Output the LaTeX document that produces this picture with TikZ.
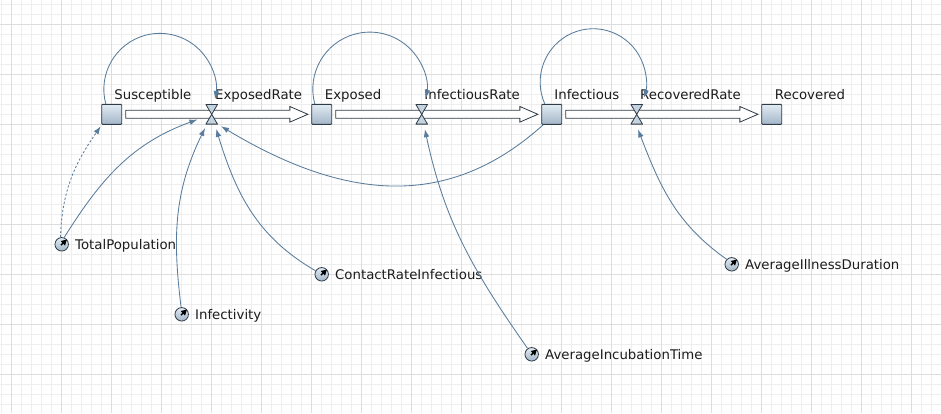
\documentclass[tikz,border=0pt]{standalone}
\usepackage{fontspec}
\setmainfont{DejaVu Sans}
\usetikzlibrary{arrows.meta}
\definecolor{conncol}{HTML}{587C9C}
\definecolor{stockborder}{HTML}{2F3B47}
\definecolor{stocktop}{HTML}{E2EBF3}
\definecolor{stockbot}{HTML}{A3B6C8}
\definecolor{valvecol}{HTML}{C4D3E0}
\definecolor{gridminor}{HTML}{EEEEEE}
\definecolor{gridmajor}{HTML}{DDDDDD}
\definecolor{labelcol}{HTML}{1C1C1C}
\begin{document}
\begin{tikzpicture}[x=1pt,y=1pt,
  stockbox/.style={rectangle, draw=stockborder, line width=0.9pt, minimum size=20pt, inner sep=0pt, top color=stocktop, bottom color=stockbot, rounded corners=0.8pt},
  valvenode/.style={circle, minimum size=30pt, inner sep=0pt},
  valveshape/.style={draw=stockborder, line width=0.8pt, fill=valvecol, line join=round},
  pipe/.style={draw=stockborder, line width=0.8pt, fill=white, line join=miter},
  auxnode/.style={circle, draw=stockborder, line width=0.8pt, minimum size=13.5pt, inner sep=0pt, top color=stocktop, bottom color=stockbot},
  needle/.style={line width=1.4pt, black, -{Triangle[length=5.6pt,width=5.8pt]}},
  conn/.style={draw=conncol, line width=0.85pt, -{Latex[length=8pt,width=5.6pt]}},
  lbl/.style={anchor=base west, inner sep=0pt, text=labelcol, font=\fontsize{13.3}{16}\selectfont},
  gminor/.style={draw=gridminor, line width=0.8pt},
  gmajor/.style={draw=gridmajor, line width=0.9pt}
]
\useasboundingbox (0,0) rectangle (941,-413);
\fill[white] (0,0) rectangle (941,-413);
\foreach \x in {1.7,11.7,...,941} \draw[gminor] (\x,0) -- (\x,-413);
\foreach \y in {4.3,14.3,...,413} \draw[gminor] (0,-\y) -- (941,-\y);
\foreach \x in {11.7,61.7,...,941} \draw[gmajor] (\x,0) -- (\x,-413);
\foreach \y in {24.3,74.3,...,413} \draw[gmajor] (0,-\y) -- (941,-\y);

% stocks
\node[stockbox] (S) at (111.7,-114.3) {};
\node[stockbox] (E) at (321.7,-114.3) {};
\node[stockbox] (I) at (551.7,-114.3) {};
\node[stockbox] (R) at (771.7,-114.3) {};
% valves (invisible hit areas)
\node[valvenode] (v1) at (211.7,-114.3) {};
\node[valvenode] (v2) at (421.7,-114.3) {};
\node[valvenode] (v3) at (636.7,-114.3) {};

% pipes
\foreach \a/\b in {S/E,E/I,I/R} {
  \draw[pipe] ([shift={(3.5,4)}]\a.east) -- ([shift={(-21.4,4)}]\b.west) -- ([shift={(-21.4,7.8)}]\b.west)
    -- ([xshift=-3.4]\b.west) -- ([shift={(-21.4,-7.8)}]\b.west) -- ([shift={(-21.4,-4)}]\b.west)
    -- ([shift={(3.5,-4)}]\a.east) -- cycle;
}
% valve bowties
\foreach \v in {v1,v2,v3} {
  \draw[valveshape] ([shift={(-5.8,9.8)}]\v.center) -- ([shift={(5.8,9.8)}]\v.center) -- (\v.center) -- cycle;
  \draw[valveshape] ([shift={(-5.8,-9.8)}]\v.center) -- ([shift={(5.8,-9.8)}]\v.center) -- (\v.center) -- cycle;
}

% auxiliaries
\node[auxnode] (tp) at (61.7,-244.3) {};
\node[auxnode] (inf) at (181.7,-314.3) {};
\node[auxnode] (cri) at (321.7,-274.3) {};
\node[auxnode] (ait) at (531.7,-354.3) {};
\node[auxnode] (aid) at (731.7,-264.3) {};
\foreach \a in {tp,inf,cri,ait,aid} \draw[needle] ([shift={(-0.8,-0.8)}]\a.center) -- (\a.42);

% labels
\node[lbl] (lS) at ([shift={(2.5,15.3)}]S.center) {Susceptible};
\node[lbl] (lE) at ([shift={(3,15.3)}]E.center) {Exposed};
\node[lbl] (lI) at ([shift={(2.5,15.3)}]I.center) {Infectious};
\node[lbl] (lR) at ([shift={(3,15.3)}]R.center) {Recovered};
\node[lbl] (lv1) at ([shift={(3.3,15.3)}]v1.center) {ExposedRate};
\node[lbl] (lv2) at ([shift={(2.5,15.3)}]v2.center) {InfectiousRate};
\node[lbl] (lv3) at ([shift={(3.3,15.3)}]v3.center) {RecoveredRate};
\node[lbl] (ltp) at ([shift={(13.3,-5)}]tp.center) {TotalPopulation};
\node[lbl] (linf) at ([shift={(13.3,-5)}]inf.center) {Infectivity};
\node[lbl] (lcri) at ([shift={(13.3,-5)}]cri.center) {ContactRateInfectious};
\node[lbl] (lait) at ([shift={(13.3,-5)}]ait.center) {AverageIncubationTime};
\node[lbl] (laid) at ([shift={(13.3,-5)}]aid.center) {AverageIllnessDuration};

% loops (stock -> own outflow valve)
\draw[conn] ([xshift=4.5]S.north west) arc[start angle=195, end angle=-10, radius=56];
\draw[conn] ([xshift=3.5]E.north west) arc[start angle=195, end angle=-9, radius=57];
\draw[conn] ([xshift=3.5]I.north west) arc[start angle=204, end angle=-17, x radius=53, y radius=53.4];

% other connectors
\draw[conn, dash pattern=on 2.2pt off 2pt] (tp.100) to[out=88,in=235] ([shift={(-0.5,-1.5)}]S.south west);
\draw[conn] (tp.70) to[out=58,in=200] (v1);
\draw[conn] (inf.95) to[out=97,in=244] (v1);
\draw[conn] (cri.150) to[out=150,in=287] (v1);
\draw[conn] ([xshift=2]I.south west) .. controls +(222:120) and +(329:155) .. (v1.308);
\draw[conn] (ait.125) to[out=125,in=282] (v2);
\draw[conn] (aid.135) to[out=145,in=291] (v3.275);
\end{tikzpicture}
\end{document}
